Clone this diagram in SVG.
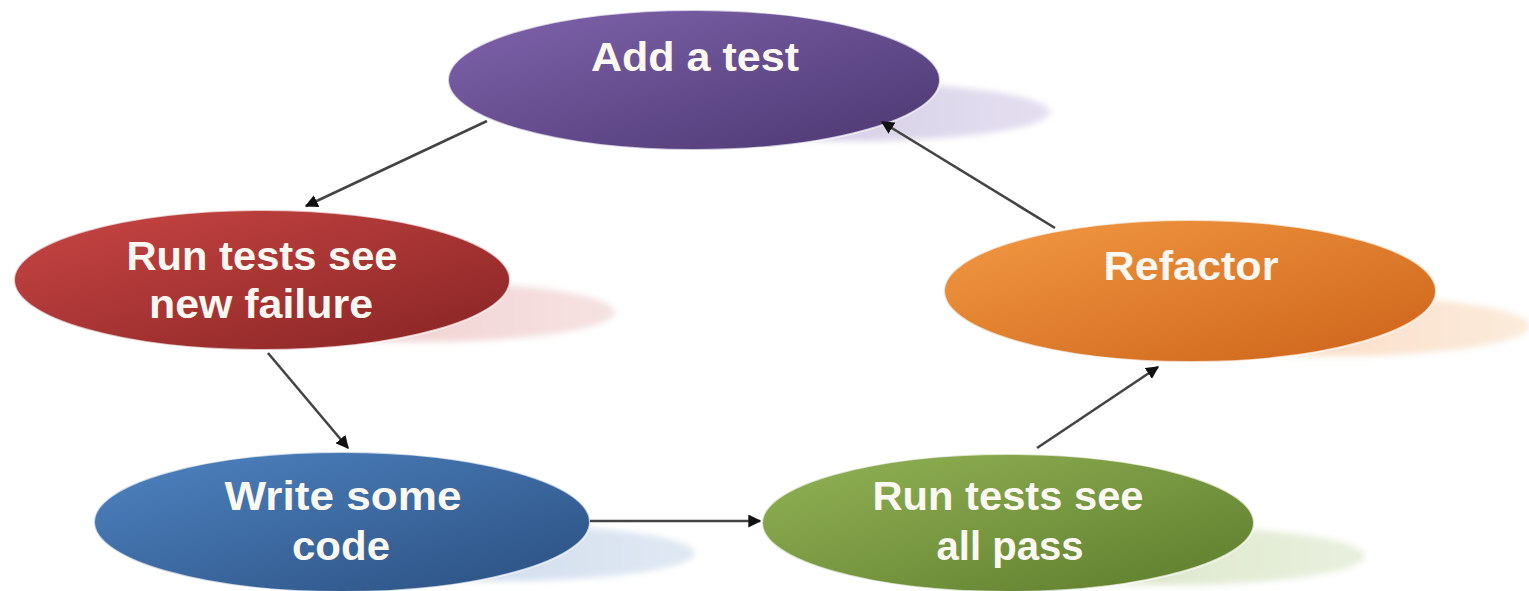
<svg xmlns="http://www.w3.org/2000/svg" width="1529" height="591" viewBox="0 0 1529 591">
  <defs>
    <linearGradient id="gPurple" x1="0" y1="0" x2="1" y2="1">
      <stop offset="0" stop-color="#8064ad"/>
      <stop offset="1" stop-color="#4b3770"/>
    </linearGradient>
    <linearGradient id="gRed" x1="0" y1="0" x2="1" y2="1">
      <stop offset="0" stop-color="#c94644"/>
      <stop offset="1" stop-color="#872424"/>
    </linearGradient>
    <linearGradient id="gOrange" x1="0" y1="0" x2="1" y2="1">
      <stop offset="0" stop-color="#f39a44"/>
      <stop offset="1" stop-color="#cc6218"/>
    </linearGradient>
    <linearGradient id="gBlue" x1="0" y1="0" x2="1" y2="1">
      <stop offset="0" stop-color="#4f84c2"/>
      <stop offset="1" stop-color="#2a4f80"/>
    </linearGradient>
    <linearGradient id="gGreen" x1="0" y1="0" x2="1" y2="1">
      <stop offset="0" stop-color="#93b356"/>
      <stop offset="1" stop-color="#5d7c2c"/>
    </linearGradient>
    <linearGradient id="shPurple" x1="0" y1="0" x2="1" y2="0">
      <stop offset="0" stop-color="#cfc6e0"/>
      <stop offset="1" stop-color="#e4dff0"/>
    </linearGradient>
    <linearGradient id="shRed" x1="0" y1="0" x2="1" y2="0">
      <stop offset="0" stop-color="#efc9c9"/>
      <stop offset="1" stop-color="#f6e2e2"/>
    </linearGradient>
    <linearGradient id="shOrange" x1="0" y1="0" x2="1" y2="0">
      <stop offset="0" stop-color="#f8d6bb"/>
      <stop offset="1" stop-color="#fcebdc"/>
    </linearGradient>
    <linearGradient id="shBlue" x1="0" y1="0" x2="1" y2="0">
      <stop offset="0" stop-color="#c8d6ea"/>
      <stop offset="1" stop-color="#e0e8f3"/>
    </linearGradient>
    <linearGradient id="shGreen" x1="0" y1="0" x2="1" y2="0">
      <stop offset="0" stop-color="#d6e2c2"/>
      <stop offset="1" stop-color="#e9f0de"/>
    </linearGradient>
    <filter id="blur" x="-10%" y="-50%" width="120%" height="200%">
      <feGaussianBlur stdDeviation="3"/>
    </filter>
    <marker id="arrow" viewBox="0 0 10 10" refX="9" refY="5" markerWidth="5" markerHeight="5" orient="auto" markerUnits="strokeWidth">
      <path d="M0,0 L10,5 L0,10 z" fill="#111"/>
    </marker>
  </defs>
  <style>
    .lbl { font-family: "Liberation Sans", Arial, sans-serif; font-weight: bold; font-size: 40px; fill: #fbf8f2; text-anchor: middle; }
    .edge { stroke: #444; stroke-width: 2.6; fill: none; marker-end: url(#arrow); }
    .node { stroke: #ffffff; stroke-opacity: 0.7; stroke-width: 2; }
  </style>
  <rect width="1529" height="591" fill="#ffffff"/>

  <g id="add-a-test">
    <ellipse cx="855" cy="112" rx="195" ry="29" fill="url(#shPurple)" filter="url(#blur)"/>
    <ellipse class="node" cx="694" cy="80" rx="246" ry="70" fill="url(#gPurple)"/>
    <text class="lbl" x="695" y="71" textLength="208" lengthAdjust="spacingAndGlyphs">Add a test</text>
  </g>

  <g id="run-tests-fail">
    <ellipse cx="420" cy="312" rx="195" ry="30" fill="url(#shRed)" filter="url(#blur)"/>
    <ellipse class="node" cx="262" cy="280" rx="248" ry="70" fill="url(#gRed)"/>
    <text class="lbl" x="262" y="270" textLength="271" lengthAdjust="spacingAndGlyphs">Run tests see</text>
    <text class="lbl" x="261" y="318" textLength="224" lengthAdjust="spacingAndGlyphs">new failure</text>
  </g>

  <g id="refactor">
    <ellipse cx="1335" cy="326" rx="195" ry="30" fill="url(#shOrange)" filter="url(#blur)"/>
    <ellipse class="node" cx="1190" cy="291" rx="246" ry="71" fill="url(#gOrange)"/>
    <text class="lbl" x="1191" y="280" textLength="175" lengthAdjust="spacingAndGlyphs">Refactor</text>
  </g>

  <g id="write-some-code">
    <ellipse cx="500" cy="553" rx="195" ry="28" fill="url(#shBlue)" filter="url(#blur)"/>
    <ellipse class="node" cx="342" cy="522" rx="248" ry="70" fill="url(#gBlue)"/>
    <text class="lbl" x="343" y="510" textLength="237" lengthAdjust="spacingAndGlyphs">Write some</text>
    <text class="lbl" x="341" y="560" textLength="98" lengthAdjust="spacingAndGlyphs">code</text>
  </g>

  <g id="run-tests-pass">
    <ellipse cx="1170" cy="556" rx="195" ry="29" fill="url(#shGreen)" filter="url(#blur)"/>
    <ellipse class="node" cx="1008" cy="523" rx="246" ry="69" fill="url(#gGreen)"/>
    <text class="lbl" x="1008" y="510" textLength="271" lengthAdjust="spacingAndGlyphs">Run tests see</text>
    <text class="lbl" x="1010" y="560" textLength="147" lengthAdjust="spacingAndGlyphs">all pass</text>
  </g>

  <g id="connectors">
    <line class="edge" x1="487" y1="121" x2="306" y2="206"/>
    <line class="edge" x1="268" y1="353" x2="348" y2="448"/>
    <line class="edge" x1="590" y1="521" x2="760" y2="521"/>
    <line class="edge" x1="1037" y1="448" x2="1158" y2="367"/>
    <line class="edge" x1="1055" y1="228" x2="882" y2="122"/>
  </g>
</svg>
